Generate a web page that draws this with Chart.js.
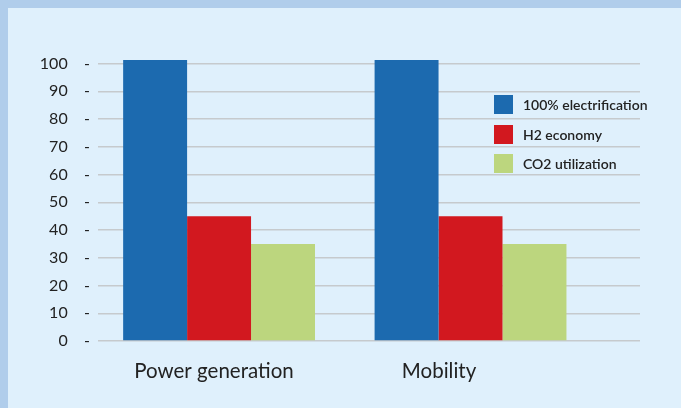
<!DOCTYPE html>
<html>
<head>
<meta charset="utf-8">
<script src="https://cdn.jsdelivr.net/npm/chart.js@4.4.1/dist/chart.umd.min.js"></script>
<style>
  html, body { margin: 0; padding: 0; }
  body { width: 681px; height: 408px; background: #b0cdeb; position: relative; overflow: hidden; }
  #panel { position: absolute; left: 8px; top: 8px; right: 0; bottom: 0; background: #dff0fc; }
  #wrap { position: absolute; left: 0; top: 0; width: 681px; height: 408px; }
  #legend { position: absolute; left: 494px; top: 95px; font-family: Lato, sans-serif; font-weight: 600; font-size: 14px; color: #222; }
  .row { display: flex; align-items: center; height: 19px; margin-bottom: 10.5px; }
  .box { width: 19px; height: 19px; margin-right: 10px; }
</style>
</head>
<body>
<div id="panel"></div>
<div id="wrap"><canvas id="c" width="681" height="408"></canvas></div>
<div id="legend"></div>
<script>
const categories = ['Power generation', 'Mobility'];
const seriesNames = ['100% electrification', 'H2 economy', 'CO2 utilization'];
const electrification = [101.3, 101.3];
const h2Economy = [45, 45];
const co2Utilization = [35, 35];
const yTicks = [0, 10, 20, 30, 40, 50, 60, 70, 80, 90, 100];
const colors = ['#1c6aaf', '#d2181f', '#bcd67e'];

const seriesValues = [electrification, h2Economy, co2Utilization];
const datasets = seriesValues.map((vals, i) => ({
  label: seriesNames[i],
  data: vals.map((v, j) => ({ x: j, y: v })),
  backgroundColor: colors[i],
  borderWidth: 0,
  categoryPercentage: 0.763,
  barPercentage: 1.0,
  xAxisID: 'x',
  yAxisID: 'y'
}));

new Chart(document.getElementById('c'), {
  type: 'bar',
  data: { datasets },
  options: {
    responsive: false,
    animation: false,
    layout: { padding: { top: 58, right: 41, left: 0, bottom: 0 } },
    plugins: { legend: { display: false }, tooltip: { enabled: false } },
    scales: {
      x: {
        type: 'linear',
        display: false,
        offset: false,
        bounds: 'data',
        min: -0.4815,
        max: 1.674,
        grid: { offset: false },
        afterBuildTicks: (s) => { s.ticks = [{ value: 0 }, { value: 1 }]; }
      },
      xl: {
        type: 'linear',
        position: 'bottom',
        offset: false,
        bounds: 'data',
        min: -0.5156,
        max: 1.893,
        grid: { display: false, drawTicks: false, offset: false },
        border: { display: false },
        afterBuildTicks: (s) => { s.ticks = [{ value: 0 }, { value: 1 }]; },
        afterFit: (s) => { s.height = 67; },
        ticks: {
          padding: 18,
          maxRotation: 0,
          autoSkip: false,
          color: '#222',
          font: { family: 'Lato', size: 20.5 },
          callback: (v) => categories[v]
        }
      },
      y: {
        min: 0,
        max: 102,
        bounds: 'data',
        afterBuildTicks: (s) => { s.ticks = yTicks.map(v => ({ value: v })); },
        afterFit: (s) => { s.width = 98; },
        grid: { color: '#c6cacd', lineWidth: 1.5, drawTicks: false },
        border: { display: false },
        ticks: {
          padding: 8,
          color: '#222',
          font: { family: 'Lato', size: 16 },
          callback: (v) => v + '    -'
        }
      }
    }
  }
});

const leg = document.getElementById('legend');
seriesNames.forEach((n, i) => {
  const r = document.createElement('div'); r.className = 'row';
  const b = document.createElement('div'); b.className = 'box'; b.style.background = colors[i];
  const t = document.createElement('span'); t.textContent = n;
  r.appendChild(b); r.appendChild(t); leg.appendChild(r);
});
</script>
</body>
</html>
